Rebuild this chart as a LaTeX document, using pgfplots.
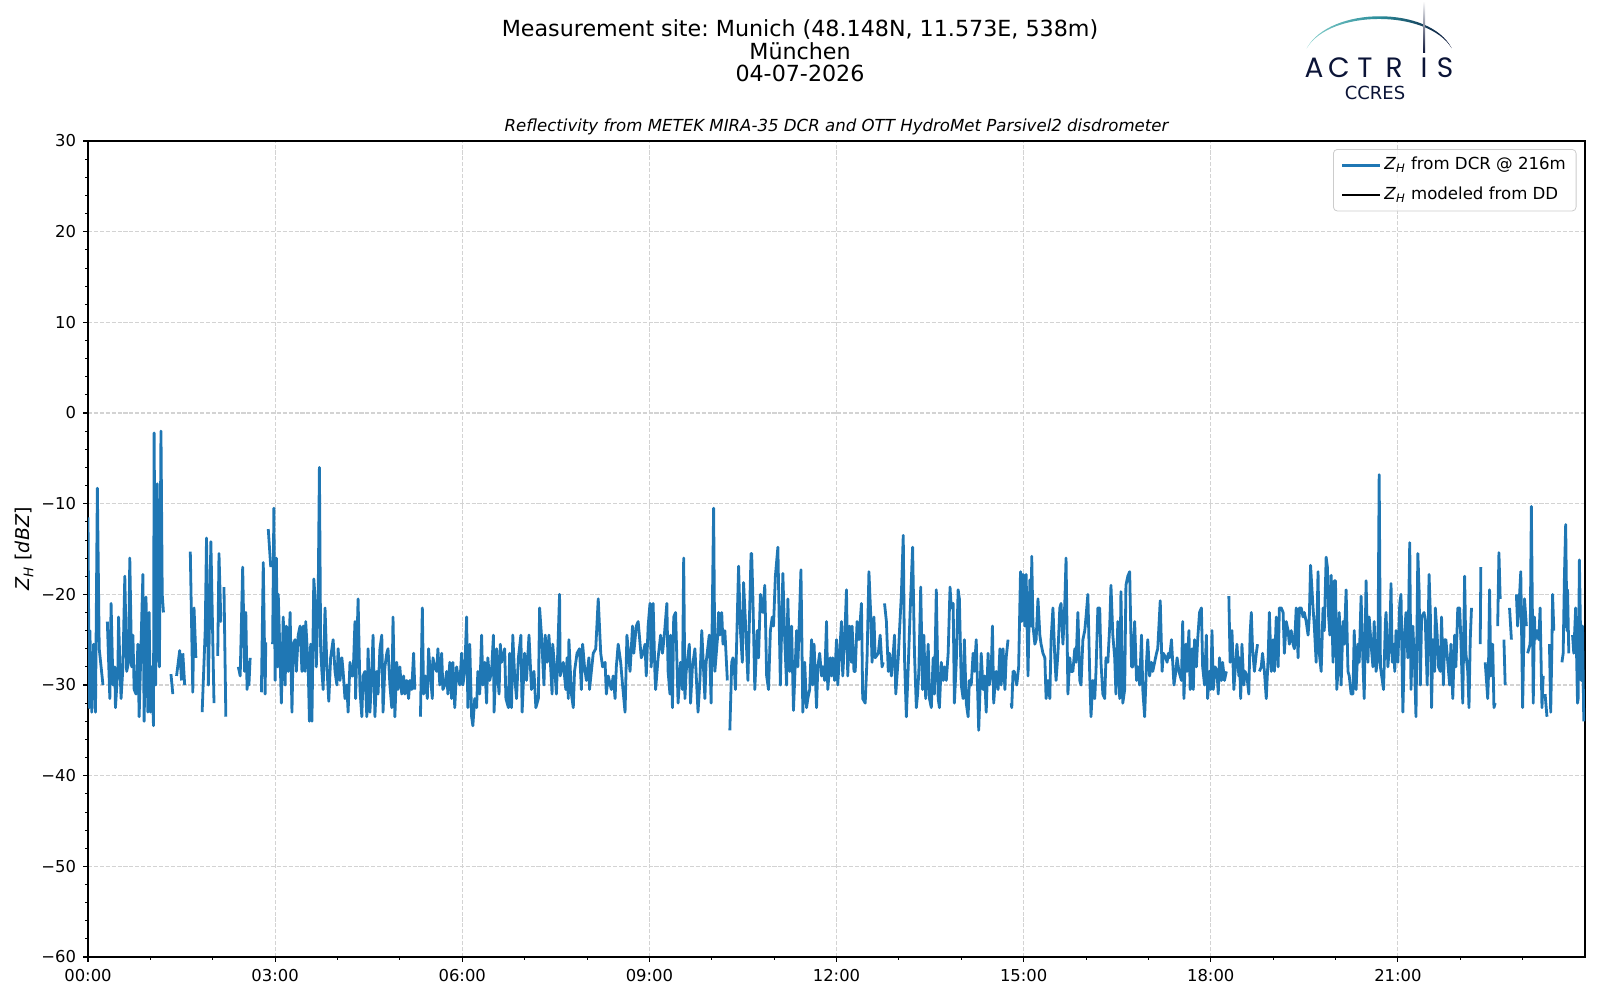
\documentclass[border=0pt]{standalone}
\usepackage{fontspec}
\setmainfont{DejaVu Sans}
\newfontfamily\logofont{Poppins}
\usepackage{pgfplots}
\pgfplotsset{compat=1.18}
\definecolor{mplblue}{HTML}{1F77B4}
\definecolor{navy}{HTML}{0B1437}
\definecolor{teallight}{HTML}{86D0CC}
\definecolor{tealmid}{HTML}{2A8C9A}
\definecolor{gridc}{HTML}{D3D3D3}
\definecolor{legc}{HTML}{CCCCCC}
\frenchspacing
\begin{document}
\begin{tikzpicture}[x=1pt,y=1pt]
\path[use as bounding box] (0,0) rectangle (800,500);
\begin{axis}[
  at={(44pt,21.5pt)}, anchor=south west,
  scale only axis, width=748.5pt, height=408pt,
  xmin=0, xmax=24, ymin=-60, ymax=30,
  xtick={0,3,6,9,12,15,18,21},
  xticklabels={00:00,03:00,06:00,09:00,12:00,15:00,18:00,21:00},
  minor xtick={1,2,4,5,7,8,10,11,13,14,16,17,19,20,22,23},
  ytick={-60,-50,-40,-30,-20,-10,0,10,20,30},
  yticklabels={−60,−50,−40,−30,−20,−10,0,10,20,30},
  minor y tick num=4,
  tick align=outside, tick pos=left,
  major tick length=2.45pt, minor tick length=1.4pt,
  every tick/.append style={black, line width=0.55pt},
  every minor tick/.append style={black, line width=0.42pt},
  axis line style={line width=0.55pt},
  grid=major,
  major grid style={draw=gridc, line width=0.55pt, dash pattern=on 2.05pt off 0.9pt},
  ticklabel style={font=\fontsize{8.2}{9.8}\selectfont},
  ylabel={\textit{Z}\textsubscript{\textit{H}} [\textit{dBZ}]},
  every axis y label/.style={at={(axis description cs:-0.0425,0.5)}, rotate=90, anchor=center, font=\fontsize{9.5}{11}\selectfont},
  legend style={at={(1,1)}, xshift=-4.25pt, yshift=-4pt, anchor=north east, draw=legc, rounded corners=2pt, fill=white, fill opacity=0.8, text opacity=1, font=\fontsize{8.3}{10}\selectfont, inner xsep=3.6pt, inner ysep=2.5pt, row sep=3.8pt, nodes={inner sep=1.5pt, text height=6.2pt, text depth=1.8pt}},
  legend cell align=left,
  legend image code/.code={\draw[#1] (0pt,0pt) -- (19pt,0pt);},
  unbounded coords=jump,
]
\addplot[mplblue, line width=1.4pt, line join=round, no marks] table {
x y
0.00 -11.5
0.02 -32.5
0.03 -24
0.06 -33
0.09 -25.5
0.12 -33
0.15 -8.3
0.18 -26
0.21 -28
0.24 -30
0.27 nan
0.31 -23
0.35 -31.5
0.37 -21
0.40 -30
0.43 -28
0.44 -32.5
0.48 -28
0.49 -22.5
0.51 -27.5
0.53 -31.5
0.56 -28
0.59 -18
0.62 -28.5
0.65 -27.5
0.67 -16
0.70 -28
0.72 -24.5
0.74 -30.5
0.77 -31
0.80 -25.5
0.82 -33.5
0.88 -17.8
0.90 -34
0.93 -20.3
0.96 -33
0.98 -22
1.00 -33
1.02 -28
1.05 -34.5
1.06 -2.2
1.085 -30
1.11 -7.8
1.13 -26
1.145 -28
1.17 -2
1.19 -20
1.21 -22
1.28 nan
1.33 -28.8
1.36 -31
1.39 nan
1.42 -29
1.47 -26.2
1.50 -29.5
1.51 nan
1.52 -26.5
1.55 -30
1.60 nan
1.64 -15.3
1.68 -30.8
1.70 -21.5
1.73 -27
1.78 nan
1.83 -33
1.88 -23.8
1.90 -13.8
1.93 -30
1.97 -14.2
2.02 -32
2.05 nan
2.08 -26.8
2.10 -15.5
2.13 -23
2.14 -23
2.16 nan
2.18 -19.2
2.21 -33.5
2.30 nan
2.41 -28
2.44 -29
2.48 -17
2.51 -28.5
2.53 -22
2.55 -30.5
2.57 -27.5
2.58 -30
2.60 -27
2.70 nan
2.78 -30.8
2.81 -16.5
2.84 -31
2.85 -25.3
2.87 nan
2.89 -12.8
2.93 -17
2.945 nan
2.96 -25.5
2.98 -10.5
3.00 -29.5
3.02 -16
3.04 -28
3.05 -20
3.10 -32
3.13 -22.5
3.16 -30
3.18 -23.5
3.21 -28.5
3.24 -22
3.27 -33
3.29 -25.5
3.32 -25
3.34 -28.5
3.37 -24.5
3.40 -23.5
3.43 -28.5
3.45 -23.5
3.48 -28.5
3.49 -23
3.53 -28
3.55 -34
3.57 -25.5
3.59 -34
3.62 -18.3
3.64 -20.3
3.66 -28
3.69 -20.5
3.71 -6
3.73 -26
3.75 -28.5
3.77 -30.5
3.80 -21.5
3.83 -28
3.86 -31.8
3.89 -27
3.93 -25
3.96 -28.5
3.99 -30
4.01 -26
4.04 -29.5
4.07 -27
4.09 -28.5
4.12 -31.5
4.15 -30
4.17 -33
4.20 -27.5
4.23 -29
4.25 -29
4.28 -23
4.29 -31.5
4.33 -20.5
4.36 -30.5
4.39 -33.5
4.41 -29
4.44 -28.5
4.47 -33.5
4.49 -26
4.52 -33
4.55 -28.5
4.57 -24.5
4.60 -33.5
4.63 -28.5
4.65 -31
4.68 -26
4.71 -24.5
4.73 -33
4.76 -28
4.79 -26.5
4.81 -26
4.84 -30
4.87 -32.5
4.89 -22.5
4.92 -33.5
4.95 -27.5
4.97 -30.5
5.00 -28
5.03 -31
5.06 -29
5.08 -31
5.11 -29.5
5.14 -31.5
5.16 -29.5
5.19 -30.5
5.22 -26.5
5.24 -30.5
5.29 nan
5.33 -33.5
5.36 -21.5
5.38 -31
5.41 -29
5.44 -31.5
5.46 -26
5.49 -29
5.52 -31.5
5.53 -27
5.56 -28
5.59 -28.5
5.61 -26
5.64 -30
5.67 -26.5
5.69 -30.5
5.72 -30
5.75 -28.5
5.77 -31
5.80 -27.5
5.83 -31.5
5.85 -27.5
5.88 -32.5
5.91 -28
5.93 -29
5.96 -30
5.99 -26.5
6.01 -30
6.04 -28.5
6.07 -22.5
6.09 -32.5
6.12 -25.5
6.15 -33.5
6.17 -34.5
6.20 -31.5
6.23 -32.5
6.25 -28.5
6.28 -31
6.31 -24.5
6.33 -30
6.36 -27.5
6.39 -32
6.41 -27
6.44 -29.5
6.47 -28.5
6.50 -24.5
6.51 -33
6.55 -26
6.57 -29
6.59 -31
6.61 -25.5
6.63 -27.5
6.68 -26
6.70 -31.5
6.74 -32.5
6.76 -26.5
6.79 -32.5
6.81 -24.5
6.84 -29
6.87 -31.5
6.90 -27
6.94 -24.5
6.96 -33
7.00 -26.5
7.03 -29.5
7.07 -24.5
7.11 -30.5
7.15 -28.5
7.18 -32.5
7.22 -31.5
7.24 -21.5
7.27 -24.5
7.31 -30
7.33 -24.5
7.36 -27.5
7.39 -24.5
7.44 -31
7.45 -25.5
7.48 -28
7.51 -31
7.56 -20
7.57 -29
7.62 -27.5
7.66 -30.5
7.68 -27
7.70 -31.5
7.71 -25
7.75 -31
7.78 -32.5
7.80 -28.5
7.84 -26.5
7.88 -26
7.91 -30.5
7.93 -25.5
7.96 -28
7.99 -29.5
8.03 -27
8.04 -30.5
8.10 -26.5
8.14 -26
8.18 -20.5
8.22 -26.5
8.25 -28
8.29 -27.5
8.31 -31
8.34 -29
8.39 -30.5
8.42 -29
8.45 -31.5
8.47 -28
8.50 -25.5
8.54 -27.5
8.57 -30
8.61 -33
8.64 -24.5
8.69 -28.5
8.73 -23.5
8.75 -26.5
8.79 -23.5
8.82 -23
8.87 -27
8.90 -26.5
8.93 -25.5
8.95 -29
8.98 -23.5
9.01 -21
9.03 -28
9.06 -21
9.09 -29
9.10 -30.5
9.14 -27
9.18 -24.5
9.21 -26.5
9.24 -24.5
9.28 -21
9.30 -28.5
9.33 -31
9.34 -24.5
9.37 -32.5
9.39 -22.5
9.42 -22
9.46 -32
9.50 -27.5
9.53 -30.5
9.55 -16
9.57 -31.5
9.59 -28.5
9.64 -25.5
9.66 -32
9.69 -28
9.73 -26
9.78 -33
9.81 -29.5
9.84 -24
9.89 -31.5
9.91 -27.5
9.96 -24.5
9.99 -32
10.03 -10.5
10.05 -28.5
10.09 -25
10.11 -22
10.13 -24.5
10.16 -22
10.18 -25.5
10.21 -24
10.25 -29.5
10.27 nan
10.29 -35
10.32 -27.5
10.34 -27
10.36 -28
10.38 -30.5
10.43 -16.9
10.46 -24
10.49 -27.5
10.51 -18.7
10.54 -23
10.58 -29.5
10.63 -15.5
10.64 -15.5
10.66 -20.5
10.69 -30.5
10.73 -24
10.75 -27
10.78 -20
10.80 -21
10.82 -22
10.85 -19
10.88 -29
10.91 -30.5
10.94 -24
10.97 -22.5
10.99 -23.5
11.02 -18
11.06 -14.8
11.10 -30
11.14 -17.7
11.17 -25
11.20 -30
11.22 -20.5
11.25 -28.5
11.28 -23.5
11.31 -32.8
11.36 -24
11.38 -28
11.43 -17.3
11.46 -33
11.49 -27.5
11.52 -32.5
11.54 -31.5
11.57 -30.5
11.60 -25
11.62 -30
11.64 -25.5
11.68 -32.5
11.70 -28
11.73 -26.5
11.76 -29
11.78 -28
11.81 -29.5
11.84 -23
11.86 -30.5
11.90 -27
11.92 -29
11.94 -27
11.97 -29.5
12.00 -25
12.02 -30
12.05 -26.5
12.08 -23
12.10 -29
12.13 -25
12.16 -19.5
12.18 -29
12.21 -23.5
12.24 -27.5
12.25 -23.5
12.28 -28.5
12.30 -28.5
12.33 -23
12.36 -25
12.40 -21
12.42 -31.5
12.46 -32
12.49 -27
12.52 -17.5
12.55 -22.5
12.57 -27.5
12.60 -22.5
12.62 -27
12.67 -26.5
12.70 -24.5
12.73 -28
12.75 -27.5
12.76 nan
12.77 -21
12.80 -23
12.83 -28.5
12.85 -26.5
12.88 -29
12.91 -26.5
12.93 -24.5
12.95 -31
12.99 -27
13.01 -24
13.04 -20
13.07 -13.5
13.09 -27
13.12 -33.5
13.15 -28
13.18 -22
13.22 -14.8
13.25 -26.5
13.28 -32.5
13.30 -31
13.32 -28.5
13.35 -19.2
13.38 -30.5
13.40 -24.5
13.43 -31.5
13.47 -25.5
13.49 -31.5
13.52 -32.5
13.55 -27
13.57 -31
13.60 -19.5
13.63 -31.5
13.65 -32.5
13.68 -27.5
13.71 -29.5
13.73 -28
13.76 -29.5
13.79 -26.5
13.82 -19.2
13.84 -21.5
13.87 -21
13.89 -32
13.92 -27.5
13.95 -19.5
13.97 -20.5
14.00 -30
14.03 -31.5
14.05 -25
14.08 -32
14.11 -33.5
14.13 -29.5
14.16 -30
14.19 -26.5
14.21 -28.5
14.24 -25
14.27 -32.5
14.28 -35
14.32 -26.5
14.35 -30.5
14.375 -29
14.40 -33
14.43 -26.5
14.45 -30
14.48 -28.5
14.50 -23.5
14.52 -32
14.55 -29
14.56 -28.5
14.59 -30.5
14.62 -26
14.64 -30
14.67 -26
14.70 -30.5
14.72 -27
14.75 -25
14.77 nan
14.80 -32
14.81 -32.5
14.83 -28.5
14.85 -28.5
14.89 -30
14.92 -28
14.95 -17.5
14.97 -23
14.99 -17.8
15.02 -23.5
15.04 -17.8
15.07 -29
15.10 -18.4
15.12 -23.5
15.13 -15.8
15.15 -23.5
15.18 -25.5
15.20 -25
15.23 -20.5
15.26 -24.5
15.28 -25.5
15.31 -26.5
15.34 -27
15.36 -31.5
15.39 -29.5
15.42 -31.5
15.44 -25
15.47 -21.5
15.50 -27
15.52 -29.5
15.55 -26.5
15.58 -21.5
15.60 -21
15.63 -25.5
15.66 -21
15.68 -16
15.71 -31
15.74 -27
15.76 -28.5
15.79 -28.5
15.82 -26
15.84 -27.5
15.87 -22
15.90 -29.5
15.92 -30
15.95 -25
15.98 -24
16.00 -22.5
16.03 -20
16.06 -29
16.08 -33.5
16.11 -29.5
16.14 -31.5
16.16 -28.5
16.19 -21.5
16.22 -21.5
16.24 -27.5
16.27 -31
16.30 -31.5
16.32 -27
16.35 -27.5
16.38 -23.5
16.40 -19
16.43 -24.5
16.46 -27
16.48 -31
16.51 -23
16.54 -31.5
16.56 -19.7
16.59 -32
16.62 -30.5
16.64 -19
16.67 -18
16.70 -17.5
16.73 -28
16.75 -28
16.78 -23
16.81 -29.5
16.83 -28
16.86 -30
16.89 -24.5
16.91 -30.5
16.94 -33.5
16.97 -27.5
16.99 -25
17.02 -29
17.05 -27.5
17.07 -28.5
17.10 -27.5
17.13 -26.5
17.15 -26
17.19 -20.7
17.22 -28.5
17.24 -26.5
17.28 -27
17.30 -27.5
17.32 -26.5
17.34 -27
17.37 -25
17.41 -30
17.44 -28.5
17.46 -27
17.49 -28.5
17.53 -29.5
17.55 -23
17.57 -31.5
17.60 -25.5
17.62 -28.5
17.65 -24
17.67 -30.5
17.70 -26
17.72 -30.5
17.74 -25
17.77 -28
17.79 -25
17.82 -22
17.85 -21.5
17.87 -28
17.90 -30
17.93 -24.5
17.95 -31.5
17.98 -28.5
18.00 -30.5
18.02 -24
18.04 -30.5
18.07 -28
18.10 -28.5
18.12 -31
18.14 -27
18.17 -29.5
18.19 -27.5
18.22 -29.5
18.25 -28.5
18.27 nan
18.29 -20.2
18.31 -27.5
18.34 -24
18.37 -30.5
18.39 -28.5
18.42 -25.5
18.45 -29
18.46 -27
18.48 -31.5
18.50 -25.5
18.53 -30
18.55 -28.5
18.58 -29
18.61 -31
18.63 -24.5
18.65 -22
18.67 -26
18.70 -28.5
18.73 -26.5
18.75 -25.5
18.765 nan
18.78 -28.5
18.81 -28
18.83 -26.5
18.86 -28.5
18.89 -31.5
18.92 -27
18.94 -22
18.97 -28.5
19.00 -25
19.02 -28.5
19.05 -22.5
19.08 -28
19.10 -21.5
19.13 -21.5
19.16 -22
19.18 -26.5
19.21 -23
19.24 -24
19.26 -25.5
19.29 -24
19.32 -25.5
19.34 -26
19.37 -21.5
19.40 -27
19.42 -21.5
19.45 -21.5
19.48 -22.5
19.50 -22
19.53 -23
19.56 -24.5
19.58 -22.5
19.60 -16.8
19.64 -21.5
19.66 -23.5
19.69 -27.5
19.72 -17.5
19.74 -26.5
19.77 -28.5
19.80 -21.5
19.82 -24
19.85 -15.9
19.87 -17
19.89 -22.5
19.91 -24.5
19.93 -17.9
19.96 -27.5
19.98 -18.5
20.00 -18.5
20.02 -30.5
20.04 -28.5
20.06 -22
20.09 -30
20.12 -23
20.14 -25.5
20.17 -19.5
20.20 -28.5
20.22 -29
20.25 -31
20.28 -31
20.30 -24
20.33 -30.5
20.36 -25.5
20.38 -27.5
20.41 -20.2
20.44 -27.5
20.46 -31.5
20.49 -18.5
20.52 -27.5
20.54 -22.5
20.57 -25.5
20.60 -28
20.62 -23
20.65 -28.5
20.68 -27
20.70 -6.8
20.72 -28
20.75 -29.5
20.77 -30.5
20.80 -23
20.81 -22
20.84 -28
20.87 -25
20.89 -18.8
20.91 -27.5
20.93 -25.5
20.95 -28.5
20.97 -24
21.00 -27.5
21.03 -21
21.05 -20
21.08 -33
21.11 -24
21.13 -22
21.16 -27
21.19 -14.3
21.21 -30.5
21.24 -23.5
21.27 -28.5
21.29 -33.5
21.32 -15.5
21.34 -19.5
21.36 -30
21.38 -22.5
21.42 -22
21.44 -23
21.47 -30
21.50 -17.8
21.52 -22
21.54 -32.5
21.56 -25
21.59 -28.5
21.60 -21.5
21.63 -24.5
21.65 -28
21.68 -28.5
21.70 -22.5
21.73 -30
21.75 -25
21.77 -25
21.80 -27.5
21.83 -30
21.85 -25.5
21.88 -31.5
21.91 -24.5
21.93 -28
21.96 -21.5
21.99 -21.5
22.01 -25
22.04 -32
22.07 -18
22.09 -26.5
22.12 -28.5
22.14 -32.5
22.16 -25
22.18 -21.5
22.25 nan
22.32 -25.5
22.33 -17
22.37 nan
22.40 -27.5
22.44 -31.5
22.45 -29.5
22.47 -19.5
22.49 -29
22.52 -25.5
22.54 -32.5
22.56 -32
22.58 nan
22.60 -23.5
22.62 -15.4
22.64 -20.5
22.67 nan
22.70 -25
22.72 -30
22.76 nan
22.79 -21.5
22.82 -25
22.86 nan
22.90 -20
22.92 -23.5
22.94 -21.5
22.97 -17.5
23.00 -32.5
23.03 -20.5
23.06 -23.5
23.07 nan
23.08 -26.5
23.10 -26
23.12 -25.5
23.14 -10.3
23.17 -32
23.19 -22.5
23.20 -25
23.23 -24
23.26 -25
23.28 -21.5
23.31 -32.5
23.33 -29
23.345 nan
23.36 -31
23.39 -33.5
23.41 nan
23.43 -25.5
23.45 -33
23.47 -25.5
23.48 -20
23.50 -24
23.56 nan
23.63 -27.5
23.65 -26.5
23.67 -18
23.69 -12.3
23.71 -24
23.72 -19.5
23.74 -26.5
23.77 nan
23.80 -24.5
23.82 -26.5
23.85 -21.5
23.88 -32
23.89 -31.5
23.91 -16.2
23.94 -29.5
23.96 -23.5
23.98 -34
};
\addlegendentry{\textit{Z}\textsubscript{\textit{H}} from DCR @ 216m}
\addlegendimage{black, line width=1.4pt}
\addlegendentry{\textit{Z}\textsubscript{\textit{H}} modeled from DD}
\end{axis}
% titles
\node[anchor=base, font=\fontsize{11.1}{13.3}\selectfont, inner sep=0pt] at (400,481.65) {Measurement site: Munich (48.148N, 11.573E, 538m)};
\node[anchor=base, font=\fontsize{11.1}{13.3}\selectfont, inner sep=0pt] at (400,470.45) {München};
\node[anchor=base, font=\fontsize{11.1}{13.3}\selectfont, inner sep=0pt] at (400,459.2) {04-07-2026};
\node[anchor=base, font=\itshape\fontsize{8.3}{10}\selectfont, inner sep=0pt] at (418.25,434.25) {Reflectivity from METEK MIRA-35 DCR and OTT HydroMet Parsivel2 disdrometer};
% logo
\shade[left color=teallight, right color=navy, middle color=tealmid]
  (653.35,475.85) .. controls (665,497.2) and (715,497.2) .. (725.85,475.85)
  .. controls (714,495.4) and (665,495.4) .. (653.35,475.85) -- cycle;
\shade[top color=white, bottom color=navy] (711.5,473.5) rectangle (712.5,499.5);
\foreach \l/\xx in {A/657, C/669.5, T/682.5, R/697, I/712, S/722.5}
  \node[anchor=base, inner sep=0pt, text=navy, font=\logofont\fontsize{14}{16}\selectfont] at (\xx,461.3) {\l};
\node[anchor=base, inner sep=0pt, text=navy, font=\fontsize{9}{10}\selectfont] at (687.5,450.4) {CCRES};
\end{tikzpicture}
\end{document}
